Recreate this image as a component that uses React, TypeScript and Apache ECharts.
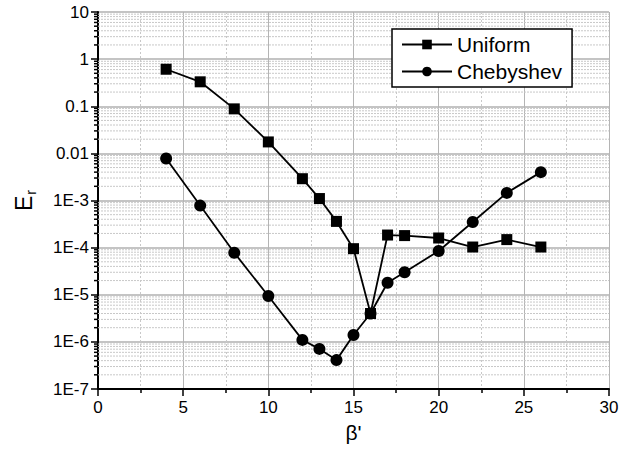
import React, { useEffect, useRef } from "react";
import * as echarts from "echarts";

// β' sample points
const betaUniform = [4, 6, 8, 10, 12, 13, 14, 15, 16, 17, 18, 20, 22, 24, 26];
const errUniform = [
  0.61, 0.33, 0.088, 0.0175, 0.0029, 1.1e-3, 3.6e-4, 9.5e-5, 4.0e-6, 1.85e-4,
  1.8e-4, 1.6e-4, 1.03e-4, 1.48e-4, 1.03e-4,
];

const betaCheb = [4, 6, 8, 10, 12, 13, 14, 15, 16, 17, 18, 20, 22, 24, 26];
const errCheb = [
  7.8e-3, 7.8e-4, 7.8e-5, 9.4e-6, 1.1e-6, 7.1e-7, 4.1e-7, 1.4e-6, 4.0e-6,
  1.8e-5, 3.0e-5, 8.5e-5, 3.5e-4, 1.45e-3, 4.0e-3,
];

// decade tick labels, from 1E-7 up to 10
const yTickLabels = ["1E-7", "1E-6", "1E-5", "1E-4", "1E-3", "0.01", "0.1", "1", "10"];
const yMinExp = -7;
const yMaxExp = 1;

const X_MIN = 0;
const X_MAX = 30;

const FONT = "'Liberation Sans', Arial, Helvetica, sans-serif";

// in-between values (2..9 × 10^k) for the minor grid of the log axis
const minorY: number[][] = [];
for (let e = yMinExp; e < yMaxExp; e++) {
  for (let m = 2; m <= 9; m++) minorY.push([X_MIN, m * Math.pow(10, e)]);
}

export default function App() {
  const ref = useRef<HTMLDivElement>(null);

  useEffect(() => {
    if (!ref.current) return;
    const chart = echarts.init(ref.current, null, { renderer: "svg" });

    chart.setOption({
      animation: false,
      backgroundColor: "#fff",
      grid: { left: 98, right: 26, top: 12, bottom: 60, containLabel: false },
      legend: {
        data: ["Uniform", "Chebyshev"],
        orient: "vertical",
        left: 392,
        top: 29,
        padding: [5, 10, 5, 9],
        itemWidth: 50,
        itemHeight: 12,
        itemGap: 6,
        borderColor: "#000",
        borderWidth: 1.5,
        backgroundColor: "#fff",
        textStyle: { fontFamily: FONT, fontSize: 21, color: "#000" },
      },
      xAxis: {
        type: "value",
        min: X_MIN,
        max: X_MAX,
        interval: 5,
        name: "β'",
        nameLocation: "middle",
        nameGap: 33,
        nameTextStyle: { fontFamily: FONT, fontSize: 21, color: "#000" },
        axisLine: { show: true, onZero: false, lineStyle: { color: "#000", width: 2 } },
        axisTick: { show: true, inside: false, length: 7, lineStyle: { color: "#000", width: 1.5 } },
        minorTick: { show: true, splitNumber: 2, length: 4, lineStyle: { color: "#000", width: 1.5 } },
        axisLabel: { fontFamily: FONT, fontSize: 17, color: "#000", margin: 10 },
        splitLine: { show: true, lineStyle: { color: "#b4b4b4", width: 1 } },
        minorSplitLine: { show: true, lineStyle: { color: "#c8c8c8", width: 1, type: [2, 2] } },
      },
      yAxis: {
        type: "log",
        logBase: 10,
        min: Math.pow(10, yMinExp),
        max: Math.pow(10, yMaxExp),
        splitNumber: yMaxExp - yMinExp,
        name: "{e|E}{r|r}",
        nameLocation: "middle",
        nameRotate: 90,
        nameGap: 60,
        nameTextStyle: {
          fontFamily: FONT,
          color: "#000",
          rich: {
            e: { fontFamily: FONT, fontSize: 23, color: "#000", verticalAlign: "top", lineHeight: 24 },
            r: { fontFamily: FONT, fontSize: 14, color: "#000", verticalAlign: "bottom", lineHeight: 26, padding: [0, 0, 0, 1] },
          },
        },
        axisLine: { show: true, onZero: false, lineStyle: { color: "#000", width: 2 } },
        axisTick: { show: true, inside: false, length: 7, lineStyle: { color: "#000", width: 1.5 } },
        axisLabel: {
          fontFamily: FONT,
          fontSize: 17,
          color: "#000",
          margin: 9,
          formatter: (v: number) => {
            const e = Math.round(Math.log10(v));
            return yTickLabels[e - yMinExp] ?? "";
          },
        },
        splitLine: { show: true, lineStyle: { color: "#c4c4c4", width: 2 } },
      },
      series: [
        {
          type: "custom",
          name: "minor",
          silent: true,
          clip: false,
          z: 1,
          data: minorY,
          renderItem: (params: any, api: any) => {
            const v = api.value(1);
            const p0 = api.coord([X_MIN, v]);
            const p1 = api.coord([X_MAX, v]);
            return {
              type: "group",
              children: [
                {
                  type: "line",
                  shape: { x1: p0[0], y1: p0[1], x2: p1[0], y2: p1[1] },
                  style: { stroke: "#c8c8c8", lineWidth: 1, lineDash: [2, 1] },
                },
                {
                  type: "line",
                  shape: { x1: p0[0] - 4, y1: p0[1], x2: p0[0], y2: p0[1] },
                  style: { stroke: "#000", lineWidth: 1.5 },
                },
              ],
            };
          },
        },
        {
          type: "line",
          name: "Uniform",
          data: betaUniform.map((b, i) => [b, errUniform[i]]),
          symbol: "rect",
          symbolSize: 11,
          z: 5,
          itemStyle: { color: "#000" },
          lineStyle: { color: "#000", width: 1.8 },
        },
        {
          type: "line",
          name: "Chebyshev",
          data: betaCheb.map((b, i) => [b, errCheb[i]]),
          symbol: "circle",
          symbolSize: 12,
          z: 5,
          itemStyle: { color: "#000" },
          lineStyle: { color: "#000", width: 1.8 },
        },
      ],
    });

    return () => chart.dispose();
  }, []);

  return (
    <div
      ref={ref}
      style={{ position: "fixed", left: 0, top: 0, width: 635, height: 449, background: "#fff" }}
    />
  );
}
